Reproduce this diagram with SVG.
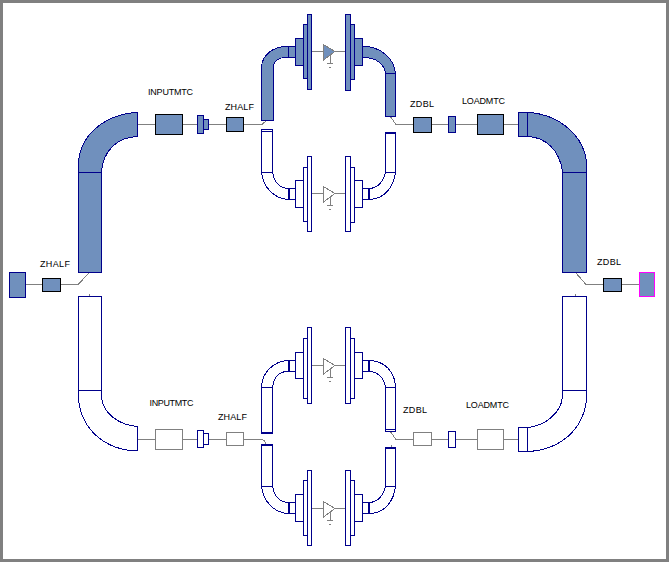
<svg xmlns="http://www.w3.org/2000/svg" width="669" height="562" viewBox="0 0 669 562" shape-rendering="crispEdges">
<style>
.b{stroke:#00008b;stroke-width:1;fill:#fff}
.f{fill:#7090bd}
.k{stroke:#000;stroke-width:1;fill:#7090bd}
.g{stroke:#808080;stroke-width:1;fill:#fff}
.c{stroke:#808080;stroke-width:1;fill:none}
.h{stroke:#00008b;stroke-width:2;fill:none}
.a{stroke:#808080;stroke-width:1;fill:#fff}
.af{stroke:#808080;stroke-width:1;fill:#7090bd}
text{font:9px "Liberation Sans",Arial,sans-serif;fill:#000}
</style>
<defs>
<g id="gnd"><path class="c" d="M330 55V63M327 63.500H333M329 67.500H331"/></g>
</defs>
<rect x="1.500" y="1" width="666" height="559" fill="#fff" stroke="#808080" stroke-width="3"/>
<g id="connectors">
<path class="c" d="M25 284.500H78L89 273M137 124.500H197M208 124.500H262L267 120"/>
<path class="c" d="M311 51.500H323M335 51.500H345M311 193.500H323M335 193.500H345M311 365.500H323M335 365.500H345M311 508.500H323M335 508.500H345"/>
<path class="c" d="M390 116L396 124.500H518"/>
<path class="c" d="M575 272L586 284.500H640"/>
<path class="c" d="M137 439.500H197M208 439.500H260Q265 439.500 266 444"/>
<path class="c" d="M390 431L396 439.500H518"/>
<path class="c" d="M89 294V296M575 294V296M266 431V433M391 445V447"/>
</g>
<g id="port-in"><rect class="b f" x="9.500" y="272.500" width="16" height="24.500"/></g>
<g id="zhalf-in"><rect class="k" x="42.500" y="278.500" width="18" height="13"/><text x="40" y="267" textLength="30">ZHALF</text></g>
<g id="port-out"><rect x="639.500" y="272.500" width="15" height="24" fill="#7090bd" stroke="#f0f" stroke-width="1"/></g>
<g id="zdbl-out"><rect class="k" x="603.500" y="278.500" width="18" height="13"/><text x="597" y="265" textLength="24">ZDBL</text></g>
<g id="upper-left-line">
<path class="b f" d="M78.500 172V163C80 135 105 114 137.500 112.500V136.500C118 137 103 150 101.500 172Z"/>
<rect class="b f" x="78.500" y="172.500" width="23" height="100"/>
</g>
<g id="upper-right-line">
<path class="b f" d="M527.500 112.500C560 114 585 137 586.500 164V172H562.500C560 150 545 137 527.500 136.500Z"/>
<rect class="b f" x="562.500" y="172.500" width="24" height="100"/>
<rect class="b f" x="518.500" y="112.500" width="9" height="24"/>
</g>
<g id="lower-left-line">
<rect class="b" x="78.500" y="296.500" width="23" height="94"/>
<path class="b" d="M78.500 390V400C82 430 105 450 137.500 451V426.500C118 425 103 413 101.500 397V390Z"/>
</g>
<g id="lower-right-line">
<rect class="b" x="562.500" y="296.500" width="24" height="94"/>
<path class="b" d="M586.500 390V400C583 430 560 450 527.500 451.500V427.500C545 426 561 413 562.500 397V390Z"/>
<rect class="b" x="518.500" y="427.500" width="9" height="24"/>
</g>
<g id="inputmtc-top"><rect class="k" x="155.500" y="114.500" width="27" height="20"/><text x="148" y="95" textLength="45">INPUTMTC</text></g>
<g id="tee-top"><rect class="b f" x="197.500" y="115.500" width="6" height="18"/><rect class="b f" x="203.500" y="119.500" width="5" height="10"/></g>
<g id="zhalf-top"><rect class="k" x="226.500" y="117.500" width="17" height="14"/><text x="225" y="110" textLength="29">ZHALF</text></g>
<g id="zdbl-top"><rect class="k" x="413.500" y="117.500" width="18" height="15"/><text x="410" y="107" textLength="24">ZDBL</text></g>
<g id="stub-top"><rect class="b f" x="448.500" y="116.500" width="7" height="16"/></g>
<g id="loadmtc-top"><rect class="k" x="477.500" y="114.500" width="26" height="20"/><text x="462" y="104" textLength="43">LOADMTC</text></g>
<g id="inputmtc-bottom"><rect class="g" x="155.500" y="429.500" width="27" height="20"/><text x="149.500" y="406" textLength="44">INPUTMTC</text></g>
<g id="tee-bottom"><rect class="b" x="197.500" y="430.500" width="6" height="17"/><rect class="b" x="203.500" y="433.500" width="5" height="11"/></g>
<g id="zhalf-bottom"><rect class="g" x="226.500" y="432.500" width="17" height="13"/><text x="218" y="420" textLength="29">ZHALF</text></g>
<g id="zdbl-bottom"><rect class="g" x="413.500" y="432.500" width="18" height="13"/><text x="403" y="413" textLength="24">ZDBL</text></g>
<g id="stub-bottom"><rect class="b" x="448.500" y="431.500" width="7" height="16"/></g>
<g id="loadmtc-bottom"><rect class="g" x="477.500" y="429.500" width="26" height="20"/><text x="466" y="408" textLength="43">LOADMTC</text></g>
<g id="amp-1">
<path class="b f" d="M261.500 120.500V67C262 56 272 46 288.500 46.500V57.500C279 57 274 61 273.500 67V120.500Z"/>
<rect class="b f" x="288.500" y="46.500" width="7" height="11"/>
<rect class="b f" x="295.500" y="38.500" width="8" height="27"/>
<rect class="b f" x="303.500" y="24.500" width="4" height="54"/>
<rect class="b f" x="307.500" y="14.500" width="4" height="75"/>
<path class="af" d="M323.500 44.500L335 51.500L323.500 60Z"/><use href="#gnd"/>
<rect class="b f" x="345.500" y="14.500" width="4.500" height="76"/>
<rect class="b f" x="350.500" y="24.500" width="4" height="55"/>
<rect class="b f" x="354.500" y="38.500" width="8" height="27"/>
<path class="b f" d="M362.500 46.500C380 46 394 58 395.500 73H385.500C384 64 376 57 362.500 57.500Z"/>
<rect class="b f" x="385.500" y="73.500" width="10" height="43"/>
</g>
<g id="amp-2">
<rect class="b" x="261.500" y="129.500" width="11" height="42.500"/><path class="b" d="M261.500 131.500H273"/>
<path class="b" d="M261.500 172C263 187 274 199 288.500 199.500V188.500C279 188 274 181 272.500 172Z"/>
<rect class="b" x="288.500" y="188.500" width="7" height="11"/><path class="h" d="M289 188V200"/>
<rect class="b" x="295.500" y="180.500" width="8" height="27"/>
<rect class="b" x="303.500" y="167.500" width="4" height="54"/>
<rect class="b" x="307.500" y="156.500" width="4" height="75"/>
<path class="a" d="M323.500 186.500L335 193.500L323.500 202Z"/><use href="#gnd" y="142"/>
<rect class="b" x="345.500" y="156.500" width="4.500" height="75"/>
<rect class="b" x="350.500" y="167.500" width="4" height="55"/>
<rect class="b" x="354.500" y="180.500" width="8" height="27"/>
<rect class="b" x="362.500" y="188.500" width="7" height="11"/><path class="h" d="M369 188V200"/>
<path class="b" d="M369.500 199.500C385 199 394 186 395.500 172H385.500C384 181 378 188 369.500 188.500Z"/>
<rect class="b" x="385.500" y="132.500" width="10" height="39.500"/><path class="h" d="M385 133H396"/>
</g>
<g id="amp-3">
<rect class="b" x="261.500" y="387.500" width="11" height="46"/><path class="h" d="M261 433H273"/>
<path class="b" d="M261.500 387C262 372 274 361 288.500 360.500V371.500C279 371 274 378 272.500 387Z"/>
<rect class="b" x="288.500" y="360.500" width="7" height="11"/><path class="h" d="M289 360V372"/>
<rect class="b" x="295.500" y="352.500" width="8" height="26"/>
<rect class="b" x="303.500" y="338.500" width="4" height="60"/>
<rect class="b" x="307.500" y="327.500" width="4" height="76"/>
<path class="a" d="M323.500 358.500L335 365.500L323.500 374Z"/><use href="#gnd" y="314"/>
<rect class="b" x="345.500" y="327.500" width="4.500" height="76"/>
<rect class="b" x="350.500" y="338.500" width="4" height="60"/>
<rect class="b" x="354.500" y="352.500" width="8" height="26"/>
<rect class="b" x="362.500" y="360.500" width="7" height="11"/><path class="h" d="M369 360V372"/>
<path class="b" d="M369.500 360.500C385 361 395 372 395.500 387H385.500C384 378 378 372 369.500 371.500Z"/>
<rect class="b" x="385.500" y="387.500" width="10" height="44"/><path class="b" d="M385.500 429.500H395.500"/>
</g>
<g id="amp-4">
<rect class="b" x="261.500" y="444.500" width="11" height="41.500"/><path class="h" d="M261 445H273"/>
<path class="b" d="M261.500 486C263 501 274 513 288.500 513.500V502.500C279 502 274 495 272.500 486Z"/>
<rect class="b" x="288.500" y="502.500" width="7" height="11"/><path class="h" d="M289 502V514"/>
<rect class="b" x="295.500" y="494.500" width="8" height="27"/>
<rect class="b" x="303.500" y="480.500" width="4" height="55"/>
<rect class="b" x="307.500" y="470.500" width="4" height="75"/>
<path class="a" d="M323.500 501.500L335 508.500L323.500 517Z"/><use href="#gnd" y="457"/>
<rect class="b" x="345.500" y="470.500" width="4.500" height="75"/>
<rect class="b" x="350.500" y="480.500" width="4" height="55"/>
<rect class="b" x="354.500" y="494.500" width="8" height="27"/>
<rect class="b" x="362.500" y="502.500" width="7" height="11"/><path class="h" d="M369 502V514"/>
<path class="b" d="M369.500 513.500C385 513 394 501 395.500 486H385.500C384 495 378 502 369.500 502.500Z"/>
<rect class="b" x="385.500" y="447.500" width="10" height="38.500"/><path class="h" d="M385 448H396"/>
</g>
</svg>
